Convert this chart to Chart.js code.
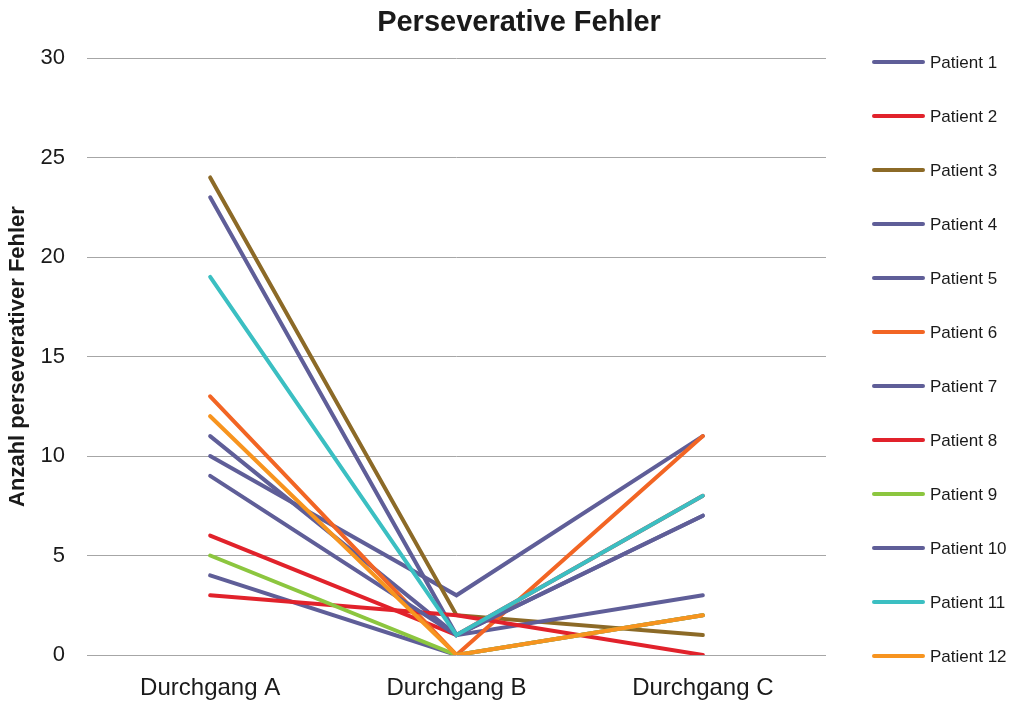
<!DOCTYPE html>
<html><head><meta charset="utf-8">
<script src="https://cdn.jsdelivr.net/npm/chart.js@4/dist/chart.umd.min.js"></script>
<style>html,body{margin:0;padding:0;background:#fff}#wrap{width:1014px;height:702px}</style>
</head><body><div id="wrap"><canvas id="c" width="1014" height="702"></canvas></div>
<script>
const categories = ['Durchgang A', 'Durchgang B', 'Durchgang C'];
const patientNames = ['Patient 1','Patient 2','Patient 3','Patient 4','Patient 5','Patient 6','Patient 7','Patient 8','Patient 9','Patient 10','Patient 11','Patient 12'];
const patient1 = [10, 3, 11];
const patient2 = [6, 1, 8];
const patient3 = [24, 2, 1];
const patient4 = [23, 1, 7];
const patient5 = [11, 1, 3];
const patient6 = [13, 0, 11];
const patient7 = [4, 0, 2];
const patient8 = [3, 2, 0];
const patient9 = [5, 0, 2];
const patient10 = [9, 1, 7];
const patient11 = [19, 1, 8];
const patient12 = [12, 0, 2];
const seriesValues = [patient1, patient2, patient3, patient4, patient5, patient6, patient7, patient8, patient9, patient10, patient11, patient12];
const yTickValues = [0, 5, 10, 15, 20, 25, 30];

const PURPLE = '#5f5e98', RED = '#e1222b', BROWN = '#8c6a27', ORANGERED = '#f26524', GREEN = '#8cc63f', TEAL = '#3bbfc2', ORANGE = '#f7941f';
const seriesColors = [PURPLE, RED, BROWN, PURPLE, PURPLE, ORANGERED, PURPLE, RED, GREEN, PURPLE, TEAL, ORANGE];
const FONT = "'Liberation Sans', Arial, sans-serif";

const datasets = seriesValues.map((vals, i) => ({
  label: patientNames[i],
  data: vals,
  borderColor: seriesColors[i],
  backgroundColor: seriesColors[i],
  borderWidth: 4,
  borderCapStyle: 'round',
  borderJoinStyle: 'miter',
  pointRadius: 0,
  pointHoverRadius: 0,
  tension: 0,
  fill: false,
  order: seriesValues.length - i
}));

const titlePlugin = {
  id: 'customTitle',
  afterDraw(chart) {
    const ctx = chart.ctx;
    ctx.save();
    ctx.font = "bold 29px " + FONT;
    ctx.fillStyle = '#1a1a1a';
    ctx.textAlign = 'center';
    ctx.textBaseline = 'middle';
    ctx.fillText('Perseverative Fehler', 519, 23);
    ctx.restore();
  }
};

const legendPlugin = {
  id: 'customLegend',
  afterDraw(chart) {
    const ctx = chart.ctx;
    ctx.save();
    chart.data.datasets.forEach((ds, i) => {
      const y = 62 + 54 * i;
      ctx.strokeStyle = ds.borderColor;
      ctx.lineWidth = 4;
      ctx.lineCap = 'round';
      ctx.beginPath();
      ctx.moveTo(874, y);
      ctx.lineTo(923, y);
      ctx.stroke();
      ctx.font = "17px " + FONT;
      ctx.fillStyle = '#1a1a1a';
      ctx.textAlign = 'left';
      ctx.textBaseline = 'middle';
      ctx.fillText(ds.label, 930, y + 1);
    });
    ctx.restore();
  }
};

new Chart(document.getElementById('c'), {
  type: 'line',
  data: { labels: categories, datasets },
  options: {
    responsive: false,
    animation: false,
    devicePixelRatio: 1,
    layout: { padding: { left: 0, right: 188, top: 58, bottom: 0 } },
    plugins: { legend: { display: false }, title: { display: false }, tooltip: { enabled: false } },
    scales: {
      x: {
        offset: true,
        grid: { display: false, drawTicks: false },
        border: { display: false },
        ticks: { font: { size: 24, family: FONT }, color: '#1a1a1a', padding: 19 },
        afterFit(s) { s.height = 47; }
      },
      y: {
        min: 0, max: 30,
        afterBuildTicks(s) { s.ticks = yTickValues.map(v => ({ value: v })); },
        grid: { color: '#a6a6a6', lineWidth: 1, drawTicks: false },
        border: { display: false },
        ticks: { font: { size: 22, family: FONT }, color: '#1a1a1a', padding: 22 },
        title: { display: true, text: 'Anzahl perseverativer Fehler', font: { size: 22, weight: 'bold', family: FONT }, color: '#1a1a1a', padding: { top: 5, bottom: 0 } },
        afterFit(s) { s.width = 87; }
      }
    }
  },
  plugins: [titlePlugin, legendPlugin]
});
</script>
</body></html>
